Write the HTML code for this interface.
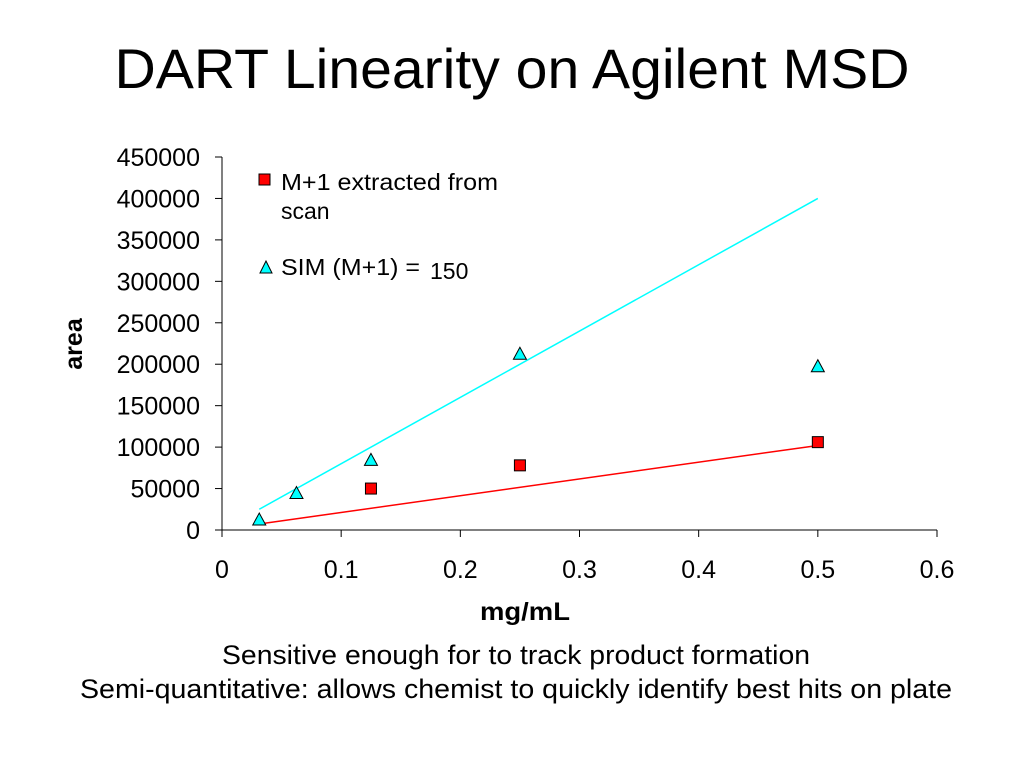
<!DOCTYPE html>
<html><head><meta charset="utf-8"><style>
body{margin:0;width:1024px;height:768px;background:#fff;font-family:"Liberation Sans",Arial,sans-serif;overflow:hidden}
</style></head><body>
<svg width="1024" height="768" xmlns="http://www.w3.org/2000/svg" font-family="Liberation Sans, Arial, sans-serif">
<text x="512" y="88" font-size="56" text-anchor="middle" textLength="795" lengthAdjust="spacingAndGlyphs">DART Linearity on Agilent MSD</text>
<g id="axes"></g>
<g id="lines"></g>
<g id="marks"></g>
<text transform="translate(82,344) rotate(-90)" font-size="25" font-weight="bold" text-anchor="middle">area</text>
<text x="525" y="620" font-size="25" font-weight="bold" text-anchor="middle" textLength="90" lengthAdjust="spacingAndGlyphs">mg/mL</text>
<g>
<rect x="259" y="174" width="11" height="11" fill="#f00" stroke="#000" stroke-width="1"/>
<text x="281" y="190" font-size="23" textLength="217" lengthAdjust="spacingAndGlyphs">M+1 extracted from</text>
<text x="281" y="219" font-size="23">scan</text>
<polygon points="266,261 260,273 272,273" fill="#0ff" stroke="#000" stroke-width="1"/>
<text x="281" y="275" font-size="23" textLength="139" lengthAdjust="spacingAndGlyphs">SIM (M+1) =</text>
<text x="430" y="279" font-size="23">150</text>
</g>
<text x="516" y="664" font-size="27" text-anchor="middle" textLength="588" lengthAdjust="spacingAndGlyphs">Sensitive enough for to track product formation</text>
<text x="516" y="698" font-size="27" text-anchor="middle" textLength="872" lengthAdjust="spacingAndGlyphs">Semi-quantitative:  allows chemist to quickly identify best hits on plate</text>
</svg>
<script>
const xTicks=[0,0.1,0.2,0.3,0.4,0.5,0.6];
const yTicks=[0,50000,100000,150000,200000,250000,300000,350000,400000,450000];
const scanX=[0.125,0.25,0.5];
const scanY=[50000,78000,106000];
const simX=[0.03125,0.0625,0.125,0.25,0.5];
const simY=[12000,44000,84000,212000,197000];
const scanFitX=[0.035,0.5];
const scanFitY=[8000,102000];
const simFitX=[0.03125,0.5];
const simFitY=[25000,400000];
const NS='http://www.w3.org/2000/svg';
const X=v=>222+v/0.6*715, Y=v=>530-v/450000*373;
function mk(t,a,p){const e=document.createElementNS(NS,t);for(const k in a)e.setAttribute(k,a[k]);p.appendChild(e);return e;}
const ax=document.getElementById('axes'),ln=document.getElementById('lines'),mr=document.getElementById('marks');
let e=mk('line',{x1:222,y1:157,x2:222,y2:530,stroke:'#000'},ax);


e=mk('line',{x1:222,y1:530,x2:937,y2:530,stroke:'#000'},ax);


xTicks.forEach(v=>{mk('line',{x1:X(v),y1:530,x2:X(v),y2:537,stroke:'#000'},ax);
const t=mk('text',{x:X(v),y:578,'font-size':25,'text-anchor':'middle'},ax);t.textContent=v;

});
yTicks.forEach(v=>{mk('line',{x1:215,y1:Y(v),x2:222,y2:Y(v),stroke:'#000'},ax);
const t=mk('text',{x:200,y:Y(v)+9,'font-size':25,'text-anchor':'end'},ax);t.textContent=v;

});
e=mk('line',{x1:X(simFitX[0]),y1:Y(simFitY[0]),x2:X(simFitX[1]),y2:Y(simFitY[1]),stroke:'#0ff','stroke-width':1.5},ln);


e=mk('line',{x1:X(scanFitX[0]),y1:Y(scanFitY[0]),x2:X(scanFitX[1]),y2:Y(scanFitY[1]),stroke:'#f00','stroke-width':1.5},ln);


scanX.forEach((x,i)=>{const cx=X(x),cy=Y(scanY[i]);
const r=mk('rect',{x:cx-5.5,y:cy-5.5,width:11,height:11,fill:'#f00',stroke:'#000'},mr);

});
simX.forEach((x,i)=>{const cx=X(x),cy=Y(simY[i]);
const p=mk('polygon',{points:`${cx},${cy-7} ${cx-6.5},${cy+5} ${cx+6.5},${cy+5}`,fill:'#0ff',stroke:'#000'},mr);

});
</script>
</body></html>
